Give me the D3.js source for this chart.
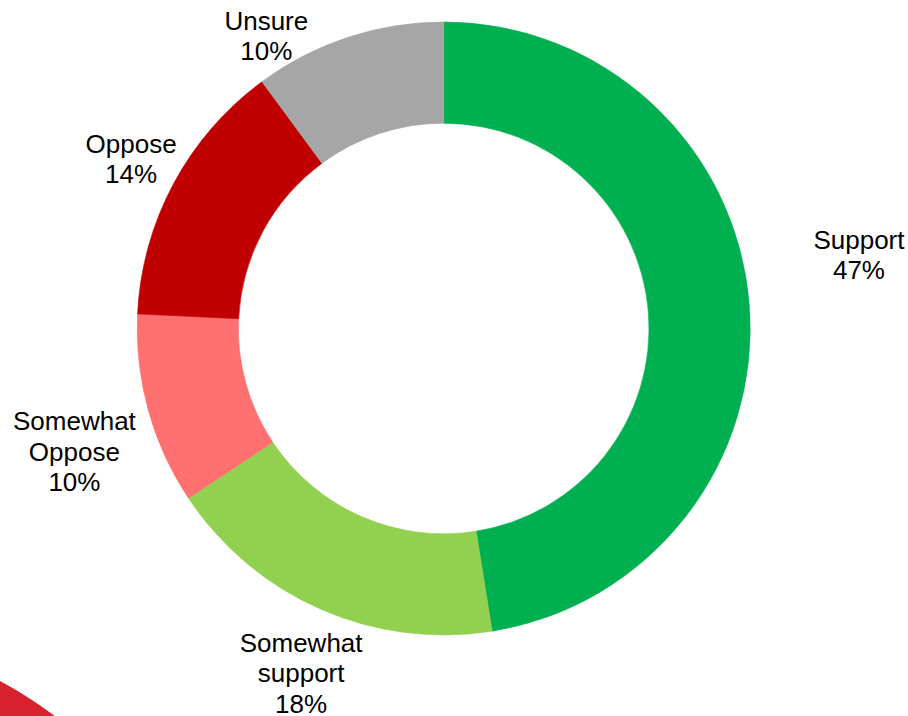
<!DOCTYPE html>
<html>
<head>
<meta charset="utf-8">
<script src="https://cdn.jsdelivr.net/npm/d3@7/dist/d3.min.js"></script>
<style>
  html, body { margin: 0; padding: 0; background: #ffffff; }
  svg { display: block; }
</style>
</head>
<body>
<svg id="chart" width="908" height="716"></svg>
<script>
// Survey responses, clockwise from 12 o'clock
const categories = ["Support", "Somewhat support", "Somewhat Oppose", "Oppose", "Unsure"];
const values = [47, 18, 10, 14, 10];
const labelLines = [["Support"], ["Somewhat", "support"], ["Somewhat", "Oppose"], ["Oppose"], ["Unsure"]];
const colors = ["#00B050", "#92D050", "#FF7070", "#C00000", "#A6A6A6"];

// Label placement (angle in degrees clockwise from top, distance from centre)
const labelPlacement = [
  { angle: 79.9, dist: 421.8 },
  { angle: 202.5, dist: 372.6 },
  { angle: 251.6, dist: 389.2 },
  { angle: 298.5, dist: 355.7 },
  { angle: 328.8, dist: 342.4 }
];

const W = 908, H = 716;
const cx = 443.7, cy = 328.5;
const outerR = 306.5, innerR = 205.3;
const fontSize = 26, lineH = 30.5;

const svg = d3.select("#chart");

// Decorative corner swoosh
svg.append("circle")
  .attr("cx", -188).attr("cy", 1034).attr("r", 400)
  .attr("fill", "#D7212E");

const pie = d3.pie().sort(null).value(d => d.value).startAngle(0).endAngle(2 * Math.PI);
const arc = d3.arc().innerRadius(innerR).outerRadius(outerR);

const data = categories.map((c, i) => ({ category: c, value: values[i], color: colors[i], lines: labelLines[i] }));
const arcs = pie(data);

const g = svg.append("g").attr("transform", `translate(${cx},${cy})`);

g.selectAll("path.slice")
  .data(arcs)
  .join("path")
  .attr("class", "slice")
  .attr("d", arc)
  .attr("fill", d => d.data.color)
  .attr("stroke", d => d.data.color)
  .attr("stroke-width", 0.6);

// Labels: category lines followed by the rounded percentage
const total = d3.sum(values);
const labels = g.selectAll("text.label")
  .data(arcs)
  .join("text")
  .attr("class", "label")
  .attr("text-anchor", "middle")
  .attr("font-family", "'Liberation Sans', Arial, sans-serif")
  .attr("font-size", fontSize)
  .attr("fill", "#000");

labels.each(function (d, i) {
  const p = labelPlacement[i];
  const a = p.angle * Math.PI / 180;
  const x = p.dist * Math.sin(a);
  const y = -p.dist * Math.cos(a);
  const lines = d.data.lines.concat([d3.format(".0f")(d.data.value) + "%"]);
  const firstBaseline = y - (lines.length - 1) * lineH / 2 + fontSize * 0.358;
  const t = d3.select(this);
  lines.forEach((ln, k) => {
    t.append("tspan")
      .attr("x", x)
      .attr("y", firstBaseline + k * lineH)
      .text(ln);
  });
});
</script>
</body>
</html>
